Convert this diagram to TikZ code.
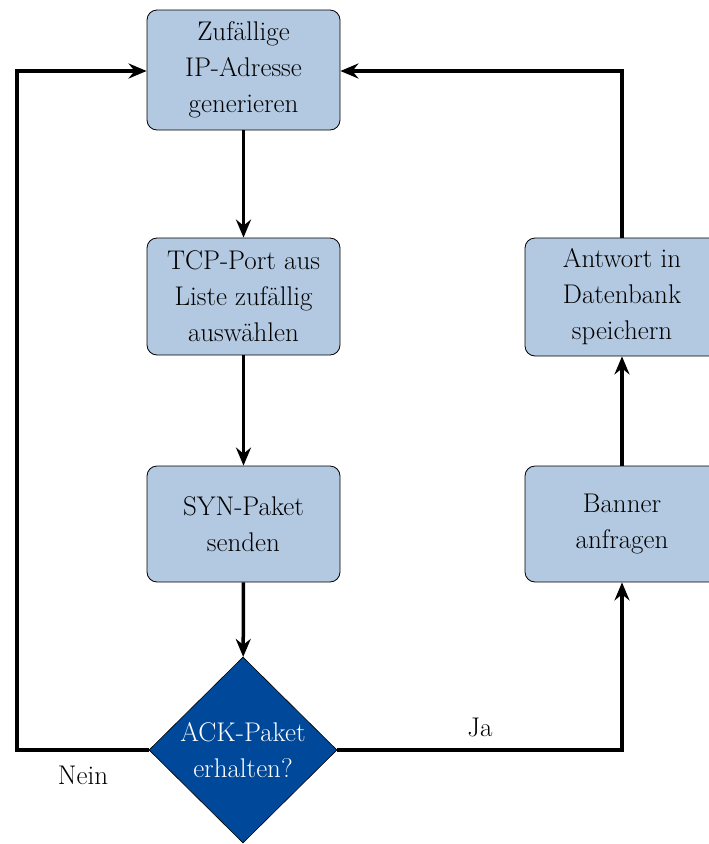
\documentclass[tikz,border=0pt]{standalone}
\usetikzlibrary{shapes.geometric,arrows.meta}
\definecolor{boxblue}{HTML}{B3C9E1}
\definecolor{darkblue}{HTML}{00489A}
\begin{document}
\begin{tikzpicture}[x=1pt,y=-1pt,
  stepbox/.style={draw=black, line width=0.8pt, fill=boxblue, rounded corners=10pt,
    minimum width=193pt, align=center, inner sep=0pt,
    font=\fontsize{27}{36}\selectfont},
  decision/.style={diamond, draw=black, line width=0.6pt, fill=darkblue, text=white,
    minimum width=188pt, minimum height=186pt, inner sep=0pt, align=center,
    font=\fontsize{27}{36}\selectfont},
  conn/.style={line width=3.5pt, -{Stealth[length=18pt,width=15pt,inset=6pt]}},
  lbl/.style={font=\fontsize{27}{30}\selectfont}]
\useasboundingbox (0,0) rectangle (709,844);
\node[stepbox, minimum height=120pt] (gen) at (243.5,70) {Zufällige\\IP-Adresse\\generieren};
\node[stepbox, minimum height=117pt] (port) at (243.5,296.5) {TCP-Port aus\\Liste zufällig\\auswählen};
\node[stepbox, minimum height=116pt] (syn) at (243.5,524) {SYN-Paket\\senden};
\node[decision] (ack) at (243,750) {ACK-Paket\\erhalten?};
\node[stepbox, minimum width=194pt, minimum height=118pt] (save) at (622,297) {Antwort in\\Datenbank\\speichern};
\node[stepbox, minimum width=194pt, minimum height=116pt] (banner) at (622,524) {Banner\\anfragen};
\coordinate (ll) at (17,750);
\coordinate (lu) at (17,71);
\coordinate (rl) at (622,750);
\coordinate (ru) at (622,71);
\draw[conn] (gen) -- (port);
\draw[conn] (port) -- (syn);
\draw[conn] (syn) -- (ack);
\draw[conn] (ack.west) -- (ll) -- (lu) -- (gen.west |- lu);
\draw[conn] (ack.east) -- (rl) -- (banner.south);
\draw[conn] (banner) -- (save);
\draw[conn] (save.north) -- (ru) -- (gen.east |- ru);
\node[lbl] (ja) at (480,727) {Ja};
\node[lbl] (nein) at (83,775) {Nein};
\end{tikzpicture}
\end{document}
